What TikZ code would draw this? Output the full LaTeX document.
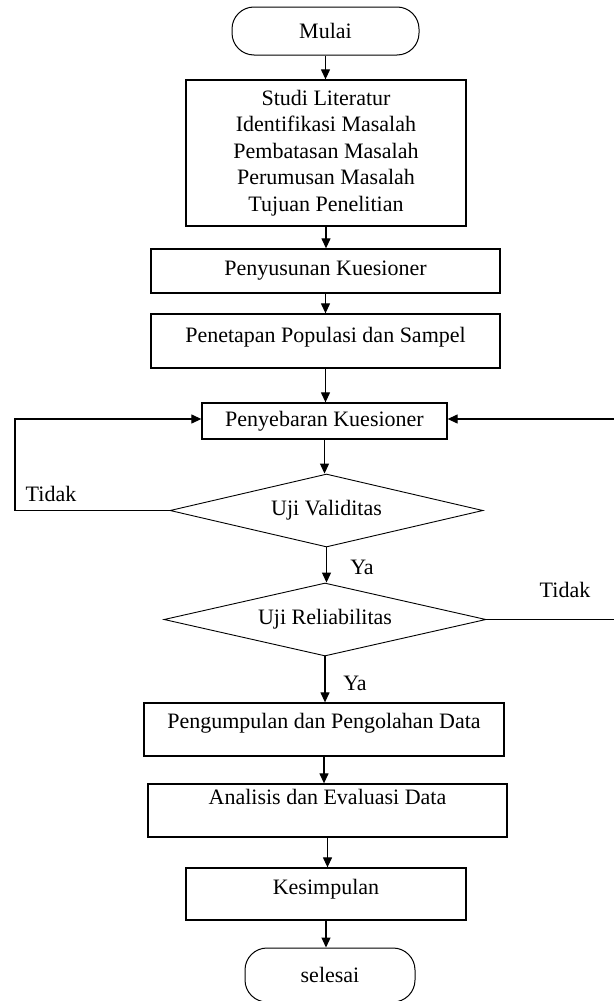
\documentclass[tikz,border=0pt]{standalone}
\usepackage{fontspec}
\setmainfont{Liberation Serif}
\usetikzlibrary{shapes.geometric,arrows.meta}
\begin{document}
\begin{tikzpicture}[x=1pt,y=-1pt,
  every node/.style={font=\fontsize{22}{26.5}\selectfont, text=black},
  box/.style={draw, line width=1.3pt, rectangle, inner sep=1.5pt, align=center},
  term/.style={draw, line width=1pt, rectangle, rounded corners=22pt, inner sep=1.5pt},
  dec/.style={draw, line width=0.9pt, diamond, aspect=4.3, inner sep=1pt},
  raise/.style={text depth=#1},
  lbl/.style={inner sep=0pt},
  conn/.style={line width=1.2pt, -{Triangle[length=10pt,width=9pt]}},
  plain/.style={line width=1.2pt}
]
\useasboundingbox (0,0) rectangle (613,1001);

\node[term, minimum width=187pt, minimum height=48pt] (mulai) at (325.5,31) {Mulai};
\node[box, minimum width=280pt, minimum height=146pt] (studi) at (326,153)
  {Studi Literatur\\Identifikasi Masalah\\Pembatasan Masalah\\Perumusan Masalah\\Tujuan Penelitian};
\node[box, minimum width=349pt, minimum height=44pt] (susun) at (325.5,271) {Penyusunan Kuesioner};
\node[box, minimum width=349pt, minimum height=54pt, raise=13pt] (tetap) at (325.5,341) {Penetapan Populasi dan Sampel};
\node[box, minimum width=245pt, minimum height=36pt] (sebar) at (324.5,421) {Penyebaran Kuesioner};
\node[dec, minimum width=313pt, minimum height=73pt] (valid) at (326.5,510.5) {Uji Validitas};
\node[dec, minimum width=322pt, minimum height=73pt] (reli) at (325,619.5) {Uji Reliabilitas};
\node[box, minimum width=360pt, minimum height=53pt, raise=18pt] (kumpul) at (324,729.5) {Pengumpulan dan Pengolahan Data};
\node[box, minimum width=359pt, minimum height=53pt, raise=27pt] (analisis) at (327.5,810.5) {Analisis dan Evaluasi Data};
\node[box, minimum width=280pt, minimum height=52pt, raise=14pt] (simpul) at (326,894) {Kesimpulan};
\node[term, minimum width=170pt, minimum height=54pt] (selesai) at (330,975) {selesai};

\node[lbl] (tidak1) at (51,494) {Tidak};
\node[lbl] (tidak2) at (565,590) {Tidak};
\node[lbl] (ya1) at (362,567) {Ya};
\node[lbl] (ya2) at (355,683) {Ya};

\coordinate (loopL) at (15,419);
\coordinate (loopR) at (616,419);

\draw[conn] (mulai.south) -- (mulai.south |- studi.north);
\draw[conn] (studi.south) -- (studi.south |- susun.north);
\draw[conn] (susun.south) -- (susun.south |- tetap.north);
\draw[conn] (tetap.south) -- (tetap.south |- sebar.north);
\draw[conn] (sebar.south) -- (sebar.south |- valid.north);
\draw[conn] (valid.south) -- (valid.south |- reli.north);
\draw[conn] (reli.south) -- (reli.south |- kumpul.north);
\draw[conn] (kumpul.south) -- (kumpul.south |- analisis.north);
\draw[conn] (analisis.south) -- (analisis.south |- simpul.north);
\draw[conn] (simpul.south) -- (simpul.south |- selesai.north);

\draw[conn] (valid.west) -| (loopL) -- (loopL -| sebar.west);
\draw[conn] (reli.east) -| (loopR) -- (loopR -| sebar.east);
\end{tikzpicture}
\end{document}
